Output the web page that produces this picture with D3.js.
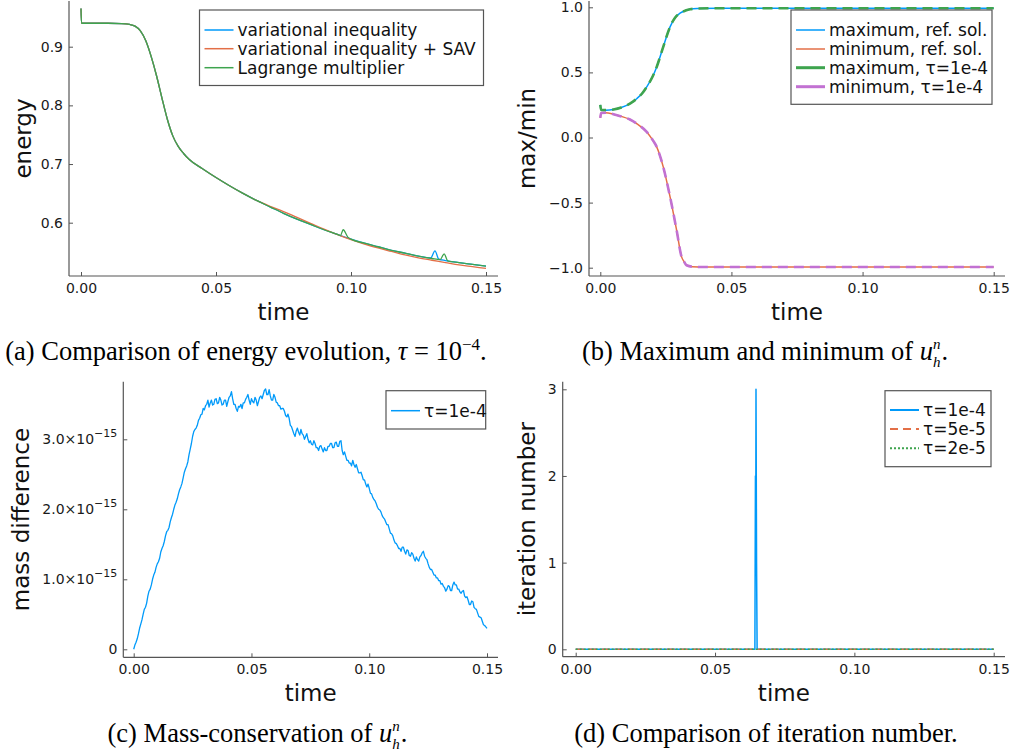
<!doctype html>
<html>
<head>
<meta charset="utf-8">
<style>
  body { margin: 0; background: #fff; }
  svg { display: block; }
  text { font-family: "DejaVu Sans", sans-serif; }
  .cap { font-family: "Liberation Serif", serif; font-size: 26.5px; fill: #000; }
</style>
</head>
<body>
<svg id="fig" width="1013" height="753"></svg>
<script src="https://cdnjs.cloudflare.com/ajax/libs/d3/7.8.5/d3.min.js"></script>
<script>
// ---- data ----
const timeTicks = [0, 0.05, 0.10, 0.15];

// (a) energy evolution
const energyTimeVI = [0, 0.0002, 0.010, 0.015, 0.018, 0.020, 0.022, 0.024, 0.026, 0.028, 0.030, 0.032, 0.034, 0.036, 0.038, 0.040, 0.045, 0.050, 0.055, 0.060, 0.065, 0.070, 0.075, 0.080, 0.085, 0.090, 0.095, 0.100, 0.105, 0.110, 0.115, 0.120, 0.125, 0.1295, 0.1311, 0.1325, 0.135, 0.140, 0.145, 0.150];
const energyVI = [0.965, 0.940, 0.940, 0.9395, 0.938, 0.935, 0.927, 0.910, 0.883, 0.850, 0.812, 0.776, 0.748, 0.730, 0.718, 0.708, 0.692, 0.677, 0.663, 0.650, 0.638, 0.627, 0.616, 0.606, 0.597, 0.588, 0.580, 0.572, 0.565, 0.559, 0.553, 0.548, 0.543, 0.540, 0.552, 0.538, 0.5355, 0.532, 0.529, 0.526];
const energyTimeSAV = [0, 0.0002, 0.010, 0.015, 0.018, 0.020, 0.022, 0.024, 0.026, 0.028, 0.030, 0.032, 0.034, 0.036, 0.038, 0.040, 0.045, 0.050, 0.055, 0.060, 0.065, 0.070, 0.075, 0.080, 0.085, 0.090, 0.095, 0.100, 0.105, 0.110, 0.115, 0.120, 0.125, 0.130, 0.135, 0.140, 0.145, 0.150];
const energySAV = [0.965, 0.940, 0.940, 0.9395, 0.938, 0.935, 0.927, 0.910, 0.883, 0.850, 0.812, 0.776, 0.748, 0.730, 0.718, 0.708, 0.692, 0.677, 0.663, 0.650, 0.638, 0.628, 0.619, 0.609, 0.599, 0.589, 0.5795, 0.571, 0.5635, 0.557, 0.551, 0.545, 0.540, 0.536, 0.532, 0.528, 0.525, 0.522];
const energyTimeLM = [0, 0.0002, 0.010, 0.015, 0.018, 0.020, 0.022, 0.024, 0.026, 0.028, 0.030, 0.032, 0.034, 0.036, 0.038, 0.040, 0.045, 0.050, 0.055, 0.060, 0.065, 0.070, 0.075, 0.080, 0.085, 0.090, 0.095, 0.0961, 0.0971, 0.0989, 0.100, 0.105, 0.110, 0.115, 0.120, 0.125, 0.130, 0.133, 0.1345, 0.1358, 0.140, 0.145, 0.150];
const energyLM = [0.965, 0.940, 0.940, 0.9395, 0.938, 0.935, 0.927, 0.910, 0.883, 0.850, 0.812, 0.776, 0.748, 0.730, 0.718, 0.708, 0.692, 0.677, 0.663, 0.650, 0.638, 0.627, 0.616, 0.606, 0.597, 0.588, 0.580, 0.578, 0.588, 0.575, 0.572, 0.565, 0.559, 0.553, 0.548, 0.543, 0.539, 0.537, 0.547, 0.535, 0.532, 0.529, 0.526];

// (b) maximum and minimum
const maxTime = [0, 0.0003, 0.002, 0.005, 0.008, 0.0113, 0.014, 0.016, 0.0177, 0.020, 0.0215, 0.024, 0.0266, 0.0285, 0.0304, 0.0325, 0.0342, 0.037, 0.045, 0.150];
const maxRef = [0.25, 0.212, 0.21, 0.215, 0.23, 0.261, 0.30, 0.34, 0.389, 0.47, 0.542, 0.696, 0.85, 0.92, 0.955, 0.975, 0.985, 0.99, 0.993, 0.993];
const maxTau = [0.25, 0.212, 0.21, 0.215, 0.23, 0.261, 0.30, 0.34, 0.389, 0.47, 0.542, 0.696, 0.85, 0.92, 0.955, 0.975, 0.985, 0.99, 0.993, 0.993];
const minTime = [0, 0.0003, 0.002, 0.005, 0.008, 0.0113, 0.014, 0.0177, 0.020, 0.0215, 0.024, 0.0266, 0.0291, 0.031, 0.032, 0.0329, 0.035, 0.040, 0.150];
const minRef = [0.15, 0.188, 0.19, 0.179, 0.162, 0.138, 0.105, 0.043, -0.02, -0.072, -0.226, -0.456, -0.712, -0.917, -0.955, -0.981, -0.992, -0.995, -0.995];
const minTau = [0.15, 0.188, 0.19, 0.179, 0.162, 0.138, 0.105, 0.043, -0.02, -0.072, -0.226, -0.456, -0.712, -0.917, -0.955, -0.981, -0.992, -0.995, -0.995];

// (c) mass difference, in units of 1e-15, sampled every 0.0005 from t = 0
const massStep = 0.0005;
const massDiff = [
  0.00, 0.06, 0.10, 0.15, 0.22, 0.30, 0.36, 0.42, 0.50, 0.57, 0.60, 0.66, 0.76, 0.83, 0.86, 0.92, 1.00, 1.06, 1.10, 1.17,
  1.22, 1.25, 1.30, 1.39, 1.44, 1.48, 1.54, 1.62, 1.68, 1.70, 1.74, 1.82, 1.88, 1.93, 2.00, 2.06, 2.10, 2.15, 2.22, 2.28,
  2.32, 2.37, 2.45, 2.53, 2.58, 2.62, 2.68, 2.78, 2.86, 2.94, 3.04, 3.11, 3.14, 3.16, 3.20, 3.27, 3.30, 3.35, 3.36, 3.44,
  3.42, 3.48, 3.50, 3.56, 3.46, 3.52, 3.56, 3.49, 3.50, 3.57, 3.58, 3.51, 3.52, 3.60, 3.56, 3.49, 3.50, 3.56, 3.56, 3.47,
  3.54, 3.60, 3.62, 3.68, 3.58, 3.50, 3.50, 3.44, 3.40, 3.47, 3.46, 3.50, 3.44, 3.52, 3.52, 3.57, 3.60, 3.64, 3.56, 3.50,
  3.58, 3.54, 3.52, 3.60, 3.56, 3.48, 3.54, 3.60, 3.62, 3.58, 3.64, 3.70, 3.72, 3.64, 3.64, 3.71, 3.62, 3.56, 3.56, 3.64,
  3.60, 3.53, 3.52, 3.48, 3.48, 3.43, 3.44, 3.44, 3.40, 3.34, 3.32, 3.36, 3.30, 3.20, 3.18, 3.13, 3.08, 3.04, 3.12, 3.16,
  3.10, 3.06, 3.14, 3.08, 3.06, 3.00, 3.04, 3.08, 3.00, 2.95, 2.98, 2.93, 2.92, 2.98, 2.94, 2.88, 2.88, 2.84, 2.90, 2.91,
  2.86, 2.82, 2.88, 2.84, 2.84, 2.90, 2.90, 2.94, 2.94, 2.88, 2.88, 2.95, 2.96, 2.90, 2.90, 2.97, 2.98, 2.84, 2.78, 2.82,
  2.76, 2.70, 2.70, 2.66, 2.66, 2.62, 2.70, 2.64, 2.60, 2.64, 2.58, 2.52, 2.52, 2.53, 2.48, 2.42, 2.42, 2.36, 2.32, 2.36,
  2.30, 2.23, 2.22, 2.17, 2.14, 2.12, 2.08, 2.03, 2.00, 1.99, 1.96, 1.91, 1.88, 1.86, 1.82, 1.78, 1.78, 1.72, 1.66, 1.65,
  1.62, 1.56, 1.52, 1.51, 1.48, 1.44, 1.44, 1.40, 1.46, 1.46, 1.40, 1.36, 1.42, 1.41, 1.34, 1.33, 1.38, 1.36, 1.30, 1.26,
  1.32, 1.28, 1.26, 1.32, 1.34, 1.38, 1.40, 1.33, 1.30, 1.28, 1.22, 1.17, 1.14, 1.14, 1.10, 1.06, 1.06, 1.02, 1.02, 0.98,
  0.98, 0.93, 0.94, 0.90, 0.88, 0.83, 0.86, 0.91, 0.90, 0.84, 0.84, 0.92, 0.96, 0.92, 0.92, 0.86, 0.86, 0.82, 0.80, 0.83,
  0.84, 0.76, 0.74, 0.75, 0.70, 0.64, 0.64, 0.69, 0.68, 0.60, 0.58, 0.57, 0.52, 0.47, 0.46, 0.45, 0.40, 0.35, 0.34, 0.32,
  0.30
];

// (d) iteration number
const iterTime1e4 = [0, 0.0643, 0.0645, 0.0646, 0.0647, 0.0649, 0.0651, 0.150];
const iter1e4 = [0, 0, 2, 1, 3, 1, 0, 0];
const iterTime5e5 = [0, 0.150];
const iter5e5 = [0, 0];
const iterTime2e5 = [0, 0.150];
const iter2e5 = [0, 0];

const blue = "#009AFA", red = "#E36F47", green = "#3EA44E", purple = "#C271D2";

const svg = d3.select("#fig");

function zip(ts, vs) { return ts.map((t, i) => [t, vs[i]]); }

function drawPanel(p) {
  const x = d3.scaleLinear().domain([0, 0.15]).range([p.x0, p.x1]);
  const y = d3.scaleLinear().domain(p.yd).range(p.yr);
  const g = svg.append("g");

  const xa = g.append("g")
    .attr("transform", `translate(0,${p.bottom})`)
    .call(d3.axisBottom(x).tickValues(timeTicks).tickFormat(d3.format(".2f"))
      .tickSizeInner(-4).tickSizeOuter(0).tickPadding(7));
  const ya = g.append("g")
    .attr("transform", `translate(${p.left},0)`)
    .call(d3.axisLeft(y).tickValues(p.yTicks).tickFormat(p.yFmt)
      .tickSizeInner(-4).tickSizeOuter(0).tickPadding(6));
  [xa, ya].forEach(a => {
    a.select(".domain").remove();
    a.attr("font-family", "DejaVu Sans").attr("font-size", 14);
    a.selectAll("line").attr("stroke", "#555");
    a.selectAll("text").attr("fill", "#1a1a1a");
  });

  g.append("line")
    .attr("x1", p.left).attr("x2", p.right).attr("y1", p.bottom).attr("y2", p.bottom)
    .attr("stroke", "#555").attr("stroke-width", 1.2);
  g.append("line")
    .attr("x1", p.left).attr("x2", p.left).attr("y1", p.top).attr("y2", p.bottom)
    .attr("stroke", "#555").attr("stroke-width", 1.2);

  g.append("text")
    .attr("x", (p.left + p.right) / 2).attr("y", p.xly)
    .attr("text-anchor", "middle").attr("font-size", 23).attr("fill", "#111")
    .text("time");
  g.append("text")
    .attr("transform", `translate(${p.ylx},${(p.top + p.bottom) / 2}) rotate(-90)`)
    .attr("text-anchor", "middle").attr("font-size", 23).attr("fill", "#111")
    .text(p.ylabel);

  return { x, y, g, ya };
}

function addLine(P, data, color, width, dash, curve) {
  const line = d3.line().x(d => P.x(d[0])).y(d => P.y(d[1])).curve(curve || d3.curveLinear);
  P.g.append("path")
    .attr("d", line(data))
    .attr("fill", "none")
    .attr("stroke", color)
    .attr("stroke-width", width)
    .attr("stroke-dasharray", dash || null)
    .attr("stroke-linejoin", "round");
}

function legend(P, box, rowsY, entries) {
  P.g.append("rect")
    .attr("x", box[0]).attr("y", box[1]).attr("width", box[2] - box[0]).attr("height", box[3] - box[1])
    .attr("fill", "#fff").attr("stroke", "#555").attr("stroke-width", 1.2);
  entries.forEach((e, i) => {
    P.g.append("line")
      .attr("x1", box[0] + 5).attr("x2", box[0] + 34)
      .attr("y1", rowsY[i]).attr("y2", rowsY[i])
      .attr("stroke", e.color).attr("stroke-width", e.width)
      .attr("stroke-dasharray", e.dash || null);
    P.g.append("text")
      .attr("x", box[0] + 38).attr("y", rowsY[i]).attr("dy", "0.36em")
      .attr("font-size", 17).attr("fill", "#111")
      .text(e.label);
  });
}

// ---- (a) ----
const A = drawPanel({
  left: 69, right: 498, top: 1, bottom: 276, x0: 81, x1: 486,
  yd: [0.6, 0.9], yr: [222.7, 46.7], yTicks: [0.6, 0.7, 0.8, 0.9], yFmt: d3.format(".1f"),
  xly: 320, ylx: 31, ylabel: "energy"
});
addLine(A, zip(energyTimeVI, energyVI), blue, 1.3, null, d3.curveMonotoneX);
addLine(A, zip(energyTimeSAV, energySAV), red, 1.3, null, d3.curveMonotoneX);
addLine(A, zip(energyTimeLM, energyLM), green, 1.3, null, d3.curveMonotoneX);
legend(A, [199.5, 10, 483.5, 85.5], [30, 48.7, 67.7], [
  { label: "variational inequality", color: blue, width: 1.5 },
  { label: "variational inequality + SAV", color: red, width: 1.5 },
  { label: "Lagrange multiplier", color: green, width: 1.5 }
]);

// ---- (b) ----
const B = drawPanel({
  left: 589, right: 1005, top: 1, bottom: 276, x0: 600.3, x1: 993.7,
  yd: [-1, 1], yr: [267.7, 7.3], yTicks: [-1, -0.5, 0, 0.5, 1], yFmt: d3.format(".1f"),
  xly: 320, ylx: 535, ylabel: "max/min"
});
addLine(B, zip(maxTime, maxRef), blue, 1.5, null, d3.curveMonotoneX);
addLine(B, zip(minTime, minRef), red, 1.5, null, d3.curveMonotoneX);
addLine(B, zip(maxTime, maxTau), green, 2.6, "10,6", d3.curveMonotoneX);
addLine(B, zip(minTime, minTau), purple, 2.6, "10,6", d3.curveMonotoneX);
legend(B, [791, 10, 992, 104.3], [30, 49, 67.7, 86.7], [
  { label: "maximum, ref. sol.", color: blue, width: 1.5 },
  { label: "minimum, ref. sol.", color: red, width: 1.5 },
  { label: "maximum, τ=1e-4", color: green, width: 3 },
  { label: "minimum, τ=1e-4", color: purple, width: 3 }
]);

// ---- (c) ----
const C = drawPanel({
  left: 123.3, right: 498, top: 381.7, bottom: 657.3, x0: 133.7, x1: 487,
  yd: [0, 3], yr: [649.3, 439.3], yTicks: [0, 1, 2, 3], yFmt: d3.format(".1f"),
  xly: 701, ylx: 28.5, ylabel: "mass difference"
});
C.ya.selectAll(".tick text").each(function (d) {
  const t = d3.select(this);
  if (d === 0) { t.text("0"); return; }
  t.text(d3.format(".1f")(d) + "×10");
  t.append("tspan").attr("dy", -7).attr("font-size", 11).text("−15");
});
addLine(C, massDiff.map((v, i) => [i * massStep, v]), blue, 1.3);
legend(C, [386, 390.7, 485.7, 429], [410.7], [
  { label: "τ=1e-4", color: blue, width: 1.5 }
]);

// ---- (d) ----
const D = drawPanel({
  left: 562.7, right: 1005, top: 381.7, bottom: 656.7, x0: 575.7, x1: 993.7,
  yd: [0, 3], yr: [649.3, 389.3], yTicks: [0, 1, 2, 3], yFmt: d3.format("d"),
  xly: 701, ylx: 535, ylabel: "iteration number"
});
addLine(D, zip(iterTime1e4, iter1e4), blue, 1.5);
addLine(D, zip(iterTime5e5, iter5e5), red, 1.5, "8,5");
addLine(D, zip(iterTime2e5, iter2e5), green, 1.5, "2,2");
legend(D, [885, 390.7, 991, 466.7], [410, 429, 448.3], [
  { label: "τ=1e-4", color: blue, width: 2 },
  { label: "τ=5e-5", color: red, width: 2, dash: "8,5" },
  { label: "τ=2e-5", color: green, width: 2, dash: "2,2" }
]);

// ---- captions ----
function uhn(t) {
  t.append("tspan").attr("font-style", "italic").text("u");
  t.append("tspan").attr("font-style", "italic").attr("font-size", 15).attr("dy", -11).text("n");
  t.append("tspan").attr("font-style", "italic").attr("font-size", 15).attr("dx", -7.5).attr("dy", 18).text("h");
  t.append("tspan").attr("dx", 1).attr("dy", -7).text(".");
}
const capA = svg.append("text").attr("class", "cap").attr("x", 246).attr("y", 360).attr("text-anchor", "middle");
capA.append("tspan").text("(a) Comparison of energy evolution, ");
capA.append("tspan").attr("font-style", "italic").text("τ");
capA.append("tspan").text(" = 10");
capA.append("tspan").attr("font-size", 17).attr("dy", -10).text("−4");
capA.append("tspan").attr("dy", 10).text(".");

const capB = svg.append("text").attr("class", "cap").attr("x", 765).attr("y", 360).attr("text-anchor", "middle");
capB.append("tspan").text("(b) Maximum and minimum of ");
uhn(capB);

const capC = svg.append("text").attr("class", "cap").attr("x", 257.5).attr("y", 742).attr("text-anchor", "middle");
capC.append("tspan").text("(c) Mass-conservation of ");
uhn(capC);

svg.append("text").attr("class", "cap").attr("x", 766).attr("y", 742).attr("text-anchor", "middle")
  .text("(d) Comparison of iteration number.");
</script>
</body>
</html>
